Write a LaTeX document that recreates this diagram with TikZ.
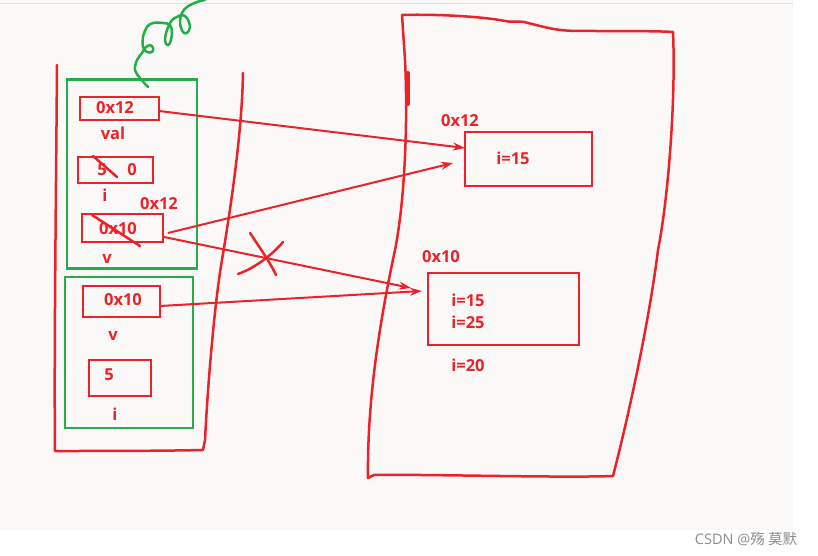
\documentclass[tikz,border=0pt]{standalone}
\usepackage{fontspec}
\setmainfont{Open Sans}
\newfontfamily\cjkfont{Noto Sans CJK SC}
\usetikzlibrary{arrows.meta}
\definecolor{rd}{RGB}{236,34,42}
\definecolor{gn}{RGB}{38,172,72}
\definecolor{bgc}{RGB}{250,249,248}
\begin{document}
\begin{tikzpicture}[x=1pt,y=-1pt,
  redline/.style={draw=rd,line width=2.5pt,line cap=round,line join=round},
  greenline/.style={draw=gn,line width=2.5pt,line join=round},
  cell/.style={draw=rd,line width=2pt,inner sep=0pt},
  frame/.style={draw=gn,line width=2.2pt,inner sep=0pt},
  txt/.style={text=rd,font=\fontsize{16.5}{19}\selectfont\bfseries,inner sep=0pt},
  ptr/.style={draw=rd,line width=2pt,-{Stealth[length=12pt,width=8pt]}}]
\useasboundingbox (0,0) rectangle (818,556);
\fill[white] (0,0) rectangle (818,556);
\fill[bgc] (0,0) rectangle (793,530);
\draw[black!12,line width=0.8pt] (0,3) -- (793,3);

% ---------- stack outline ----------
\draw[redline] (57,65) .. controls (56,200) and (54,350) .. (55,451)
  .. controls (100,451) and (160,451) .. (203,450) -- (205,440)
  .. controls (208,380) and (215,300) .. (222,260)
  .. controls (232,200) and (242,130) .. (243,73);

% ---------- frames ----------
\node[frame,minimum width=130pt,minimum height=189pt] (f1) at (132,174) {};
\node[frame,minimum width=128pt,minimum height=151pt] (f2) at (129,352.5) {};

% green squiggle
\draw[greenline,line cap=round] plot[smooth,tension=0.6] coordinates {
  (148,87) (140,78) (135,70) (137,60) (142,53) (145,48) (150,45) (153,48)
  (152,52) (147,52) (143,47) (143,37) (147,27) (153,23) (163,23) (170,25)
  (172,33) (170,43) (167,45) (165,40) (167,30) (172,20) (177,17) (182,15)
  (187,18) (190,27) (187,33) (183,32) (180,23) (182,13) (187,7) (197,2) (205,0)};

% ---------- stack cells ----------
\node[cell,minimum width=79pt,minimum height=23pt] (val) at (119,108.5) {};
\node[txt] (valt) at (115,108) {0x12};
\node[txt] (vall) at (113,133) {val};

\node[cell,minimum width=75pt,minimum height=26pt] (ia) at (115.5,170) {};
\node[txt] (iat5) at (102,170) {5};
\node[txt] (iat0) at (132,170) {0};
\draw[redline] (93,156) -- (117,177);
\node[txt] (ial) at (105,195) {i};

\node[txt] (va12) at (159,204) {0x12};
\node[cell,minimum width=81pt,minimum height=28pt] (va) at (122,228) {};
\node[txt] (vat) at (118,229) {0x10};
\draw[redline] (92,215) -- (140,246);
\node[txt] (val2) at (107,259) {v};

\node[cell,minimum width=77pt,minimum height=31pt] (vb) at (121,301) {};
\node[txt] (vbt) at (123,300) {0x10};
\node[txt] (vbl) at (113,336) {v};

\node[cell,minimum width=62pt,minimum height=36pt] (ib) at (120,378) {};
\node[txt] (ibt) at (109,375) {5};
\node[txt] (ibl) at (115,414) {i};

% ---------- heap outline ----------
\draw[redline] (402,15) .. controls (430,14) and (480,16) .. (505,21)
  .. controls (512,23) and (518,20) .. (528,23)
  .. controls (545,27) and (555,31) .. (580,31)
  .. controls (620,31) and (660,31) .. (673,32)
  .. controls (676,100) and (668,200) .. (658,250)
  .. controls (648,330) and (625,430) .. (613,476)
  .. controls (560,478) and (420,474) .. (374,475) -- (368,478)
  .. controls (367,400) and (380,320) .. (395,250)
  .. controls (405,200) and (408,120) .. (405,60) -- (402,15);
\draw[draw=rd,line width=4pt,line cap=round] (408,73) -- (408,104);

% ---------- heap objects ----------
\node[txt] (h1l) at (460,121) {0x12};
\node[cell,minimum width=127pt,minimum height=54pt] (h1) at (528.5,159) {};
\node[txt] (h1t) at (513,158) {i=15};

\node[txt] (h2l) at (441,257) {0x10};
\node[cell,minimum width=151pt,minimum height=72pt] (h2) at (503.5,309) {};
\node[txt] (h2a) at (468,300) {i=15};
\node[txt] (h2b) at (468,322) {i=25};
\node[txt] (h2c) at (468,365) {i=20};

% ---------- pointers ----------
\coordinate (a1s) at (159,111);
\coordinate (a1e) at (465,148);
\coordinate (a2s) at (168,233);
\coordinate (a2e) at (453,163);
\coordinate (a3s) at (164,237);
\coordinate (a3e) at (411,288);
\coordinate (a4s) at (160,306);
\coordinate (a4e) at (422,291);
\draw[ptr] (a1s) -- (a1e);
\draw[ptr] (a2s) -- (a2e);
\draw[ptr] (a3s) -- (a3e);
\draw[ptr] (a4s) -- (a4e);

% cross
\draw[redline] (250,233) .. controls (258,245) and (270,262) .. (276,275);
\draw[redline] (238,274) .. controls (255,268) and (272,255) .. (283,242);

% watermark
\node[text=black!45,font=\fontsize{14.5}{16}\selectfont,inner sep=0pt] (wm) at (746,539) {CSDN @{\cjkfont 殇 莫默}};
\end{tikzpicture}
\end{document}
